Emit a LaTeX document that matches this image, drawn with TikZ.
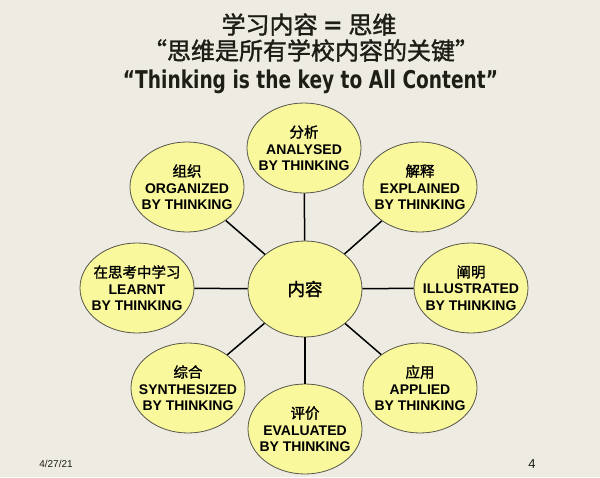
\documentclass[tikz,border=0pt]{standalone}
\usepackage{fontspec}
\setmainfont{Liberation Sans}
\newfontfamily\cjk[AutoFakeBold=1.5]{Noto Sans CJK SC}
\newfontfamily\titlefont{DejaVu Sans}
\usetikzlibrary{shapes.geometric}
\definecolor{bg}{HTML}{EEEBE3}
\definecolor{bubblefill}{HTML}{F9F89C}
\definecolor{edge}{HTML}{55554A}
\definecolor{ink}{HTML}{1E1E16}
\newcommand{\bubtext}[3]{{\cjk\bfseries\fontsize{14.5}{16.5}\selectfont #1}\\#2\\#3}
\begin{document}
\begin{tikzpicture}[x=1pt,y=-1pt,
  bubble/.style={ellipse, draw=edge, line width=0.8pt, fill=bubblefill,
    minimum width=114pt, minimum height=90pt, inner sep=0pt},
  hub/.style={bubble, minimum height=96pt},
  bubtxt/.style={align=center, inner sep=0pt, text=black,
    font=\fontsize{14}{16.5}\selectfont\bfseries},
  link/.style={line width=1.5pt, black},
  title/.style={inner sep=0pt, text=ink}]
\fill[bg] (0,0) rectangle (600,477);
\useasboundingbox (0,0) rectangle (600,477);

% title
\node[title] (t1) at (309,24.5) {\cjk\bfseries\fontsize{24}{24}\selectfont 学习内容 {\titlefont\bfseries =} 思维};
\node[title] (t2) at (311,50.5) {\cjk\bfseries\fontsize{24}{24}\selectfont “思维是所有学校内容的关键”};
\node[title, anchor=base] (t3) at (310.5,88) {\resizebox{375pt}{\height}{\titlefont\bfseries\fontsize{24.5}{24.5}\selectfont “Thinking is the key to All Content”}};

% bubbles
\node[hub] (c) at (305,289) {};
\node[bubble] (an) at (304,148) {};
\node[bubble] (or) at (187,187) {};
\node[bubble] (ex) at (420,187) {};
\node[bubble] (il) at (471,288) {};
\node[bubble] (ap) at (420,388) {};
\node[bubble] (ev) at (305,429) {};
\node[bubble] (sy) at (188,388) {};
\node[bubble] (le) at (137,288) {};

% connectors
\foreach \n in {an,or,ex,il,ap,ev,sy,le}
  \draw[link] (c) -- (\n);

% texts
\node[bubtxt] (c-t) at (c) {\cjk\bfseries\fontsize{17.5}{17.5}\selectfont 内容};
\node[bubtxt] (an-t) at (an) {\bubtext{分析}{ANALYSED}{BY THINKING}};
\node[bubtxt] (or-t) at (or) {\bubtext{组织}{ORGANIZED}{BY THINKING}};
\node[bubtxt] (ex-t) at (ex) {\bubtext{解释}{EXPLAINED}{BY THINKING}};
\node[bubtxt] (il-t) at (il) {\bubtext{阐明}{ILLUSTRATED}{BY THINKING}};
\node[bubtxt] (ap-t) at (ap) {\bubtext{应用}{APPLIED}{BY THINKING}};
\node[bubtxt] (ev-t) at (ev) {\bubtext{评价}{EVALUATED}{BY THINKING}};
\node[bubtxt] (sy-t) at (sy) {\bubtext{综合}{SYNTHESIZED}{BY THINKING}};
\node[bubtxt] (le-t) at (le) {\bubtext{在思考中学习}{LEARNT}{BY THINKING}};

% footer
\node[inner sep=0pt, text=ink] (date) at (56,464) {\fontsize{10}{10}\selectfont 4/27/21};
\node[inner sep=0pt, text=ink] (pg) at (532,464) {\fontsize{13}{13}\selectfont 4};
\end{tikzpicture}
\end{document}
